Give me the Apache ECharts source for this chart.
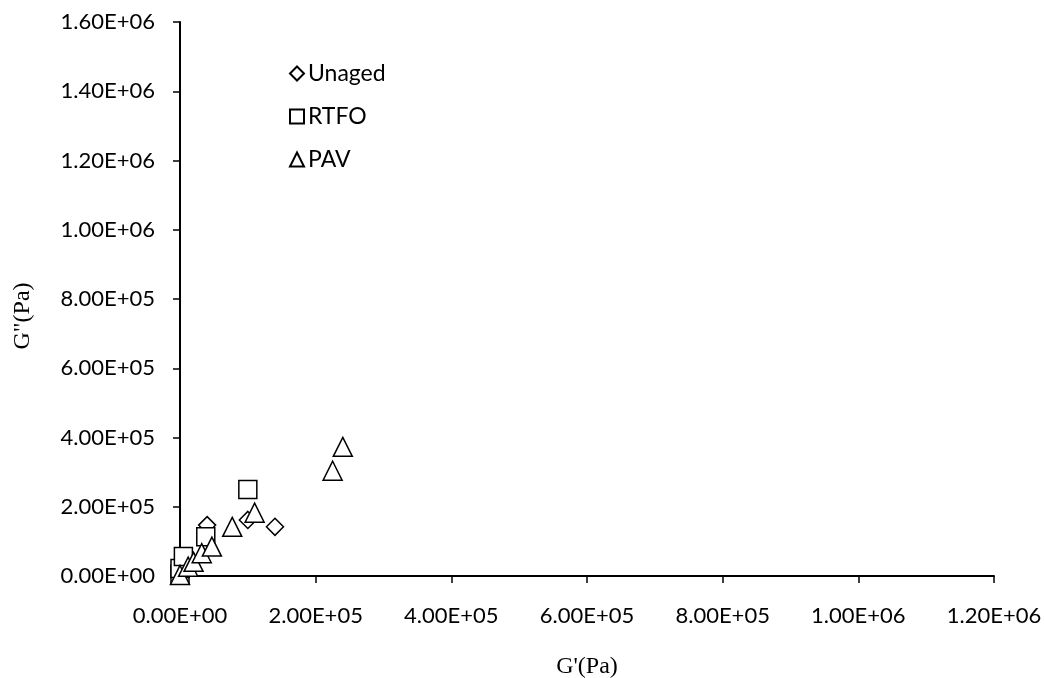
<!DOCTYPE html>
<html><head><meta charset="utf-8">
<script src="https://cdn.jsdelivr.net/npm/echarts@6/dist/echarts.min.js"></script>
<style>html,body{margin:0;padding:0;background:#fff}#c{width:1044px;height:678px}</style>
</head><body><div id="c"></div>
<script>
var seriesNames = ['Unaged', 'RTFO', 'PAV'];
var unaged = [[0, 2000], [3000, 20000], [12000, 35000], [40000, 147000], [100000, 162000], [140000, 142000]];
var rtfo = [[0, 5000], [0, 22000], [5000, 56000], [38000, 113000], [100000, 250000]];
var pav = [[0, 3000], [12000, 27000], [20000, 41000], [32000, 66000], [47000, 85000], [77000, 142000], [110000, 183000], [225000, 304000], [240000, 373000]];
var xTickMax = 1200000, yTickMax = 1600000;

function fmt(v) {
  if (v === 0) return '0.00E+00';
  var e = Math.floor(Math.log10(Math.abs(v)) + 1e-9);
  var m = v / Math.pow(10, e);
  return m.toFixed(2) + 'E+' + (e < 10 ? '0' + e : e);
}
var chart = echarts.init(document.getElementById('c'), null, {renderer: 'canvas'});
var lab = {fontFamily: 'Lato, "Open Sans", sans-serif', fontSize: 22, color: '#000'};
function mk(name, data, sym, size) {
  return {name: name, type: 'scatter', data: data, symbol: sym, symbolSize: size,
    itemStyle: {color: '#fff', borderColor: '#000', borderWidth: 1.5, opacity: 1}};
}
chart.setOption({
  animation: false,
  grid: {left: 180, right: 50, top: 22, bottom: 102, containLabel: false, outerBoundsMode: 'none'},
  legend: {
    orient: 'vertical', left: 284, top: 57, itemGap: 20, itemWidth: 14, itemHeight: 14,
    textStyle: {fontFamily: 'Lato, "Open Sans", sans-serif', fontSize: 23, color: '#000', padding: [0, 0, 0, -1]},
    data: [{name: 'Unaged', icon: 'diamond'}, {name: 'RTFO', icon: 'rect'}, {name: 'PAV', icon: 'triangle'}]
  },
  xAxis: {
    type: 'value', min: 0, max: xTickMax, interval: 200000,
    name: "G'(Pa)", nameLocation: 'middle', nameGap: 79,
    nameTextStyle: {fontFamily: '"Liberation Serif", serif', fontSize: 24, color: '#000'},
    axisLine: {show: true, lineStyle: {color: '#000', width: 2}},
    axisTick: {show: true, inside: false, length: 7, lineStyle: {color: '#000', width: 1.5}},
    axisLabel: Object.assign({margin: 29, formatter: fmt}, lab),
    splitLine: {show: false}
  },
  yAxis: {
    type: 'value', min: 0, max: yTickMax, interval: 200000,
    name: 'G"(Pa)', nameLocation: 'middle', nameGap: 145,
    nameTextStyle: {fontFamily: '"Liberation Serif", serif', fontSize: 24, color: '#000', padding: [0, 34, 0, 0]},
    axisLine: {show: true, lineStyle: {color: '#000', width: 2}},
    axisTick: {show: true, inside: false, length: 7, lineStyle: {color: '#000', width: 1.5}},
    axisLabel: Object.assign({margin: 25, formatter: fmt}, lab),
    splitLine: {show: false}
  },
  series: [mk(seriesNames[0], unaged, 'diamond', 17), mk(seriesNames[1], rtfo, 'rect', 18), mk(seriesNames[2], pav, 'triangle', 19)]
});
</script></body></html>
